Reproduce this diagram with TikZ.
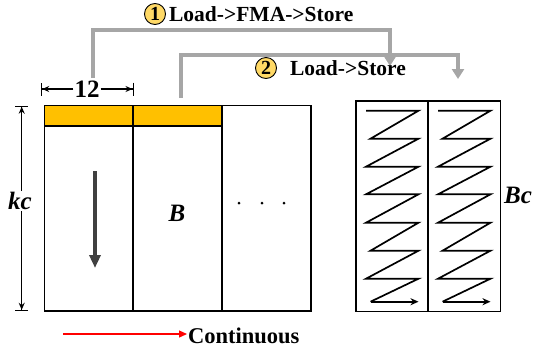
\documentclass[tikz,border=0pt]{standalone}
\usepackage{fontspec}
\setmainfont{Liberation Serif}
\usetikzlibrary{arrows.meta,positioning}
\definecolor{blkYellow}{HTML}{FFC000}
\definecolor{numYellow}{HTML}{FFD966}
\definecolor{flowGray}{HTML}{A6A6A6}
\definecolor{arrDark}{HTML}{404040}
\tikzset{
  cellbox/.style = {draw=black, line width=1.7pt},
  yband/.style   = {fill=blkYellow, draw=black, line width=1.7pt},
  flow/.style    = {draw=flowGray, line width=3.3pt,
                    -{Triangle[length=10pt, width=12pt]}},
  numc/.style    = {circle, draw=black, line width=0.9pt, fill=numYellow,
                    minimum size=21pt, inner sep=0pt,
                    font=\fontsize{20}{20}\selectfont\bfseries},
  flab/.style    = {font=\fontsize{21.5}{21.5}\selectfont\bfseries, inner sep=1pt},
  dimarr/.style  = {-{Stealth[length=7pt, width=6pt, sep=0pt]Bar[width=13pt]},
                    line width=1.2pt},
  mlab/.style    = {font=\fontsize{25}{25}\selectfont\bfseries\itshape},
  dlab/.style    = {font=\fontsize{25}{25}\selectfont\bfseries, inner sep=1pt},
  zig/.style     = {line width=1.7pt},
  downarr/.style = {draw=arrDark, line width=3.4pt,
                    -{Triangle[length=13pt, width=11pt]}},
  contarr/.style = {draw=red, line width=1.3pt, -{Triangle[length=8pt, width=7pt]}},
}
\begin{document}
\begin{tikzpicture}[x=1pt, y=-1pt]
  \useasboundingbox (0,0) rectangle (534,354);

  % left block B
  \foreach \xa/\xb in {44.5/133.3, 133.3/222}{%
    \filldraw[yband] (\xa,105.5) rectangle (\xb,126);}
  \draw[cellbox] (44.5,105.5) rectangle (311,311);
  \draw[cellbox] (133.3,105.5) -- (133.3,311);
  \draw[cellbox] (222,105.5) -- (222,311);
  \coordinate (dtop) at (95,171);
  \coordinate (dbot) at (95,268);
  \draw[downarr] (dtop) -- (dbot);
  \node[mlab] (bl) at (177,213) {B};
  \foreach \x in {239,262,284}
    \fill (\x,203) circle (1.5);

  % dimensions
  \node[dlab] (w12) at (87,89) {12};
  \coordinate (wl) at (41,89);
  \coordinate (wr) at (133.7,89);
  \draw[dimarr] (w12.west) -- (wl);
  \draw[dimarr] (w12.east) -- (wr);
  \node[mlab, inner sep=1pt] (kc) at (20,201) {kc};
  \coordinate (kt) at (21.7,105.5);
  \coordinate (kb) at (21.7,311);
  \draw[dimarr] (kc.north -| kt) -- (kt);
  \draw[dimarr] (kc.south -| kb) -- (kb);

  % right block Bc
  \draw[cellbox] (356,101) rectangle (500.5,311.5);
  \draw[cellbox] (428,101) -- (428,311.5);
  \foreach \c in {356,428}{%
    \draw[zig] (\c+10,110.7) -- (\c+62.5,110.7) -- (\c+14.5,138.7)
      -- (\c+62.5,138.7) -- (\c+10,166.7) -- (\c+62.5,166.7)
      -- (\c+10,194.3) -- (\c+62.5,194.3) -- (\c+10,222.7)
      -- (\c+62.5,222.7) -- (\c+14.5,250.7) -- (\c+62.5,250.7)
      -- (\c+10,278.7) -- (\c+62.5,278.7) -- (\c+14.5,301.7);
    \draw[zig, -{Stealth[length=8pt, width=7pt]}] (\c+14.5,301.7) -- (\c+62.5,301.7);}
  \node[mlab] (bc) at (518,195) {Bc};

  % load / store flows
  \coordinate (s1) at (93,78);
  \coordinate (e1) at (390,66);
  \coordinate (s2) at (181,98);
  \coordinate (e2) at (458,79);
  \draw[flow] (s1) -- ++(0,-48) -| (e1);
  \draw[flow] (s2) -- ++(0,-43) -| (e2);
  \node[numc] (n1) at (155,14) {1};
  \node[flab, right=2pt of n1] (t1) {Load->FMA->Store};
  \node[numc] (n2) at (266,68) {2};
  \node[flab, right=12pt of n2] (t2) {Load->Store};

  % continuous direction
  \node[dlab, font=\fontsize{22.5}{22.5}\selectfont\bfseries, anchor=west]
    (cont) at (187,336) {Continuous};
  \coordinate (c0) at (63,334);
  \draw[contarr] (c0) -- (c0 -| cont.west);
\end{tikzpicture}
\end{document}
